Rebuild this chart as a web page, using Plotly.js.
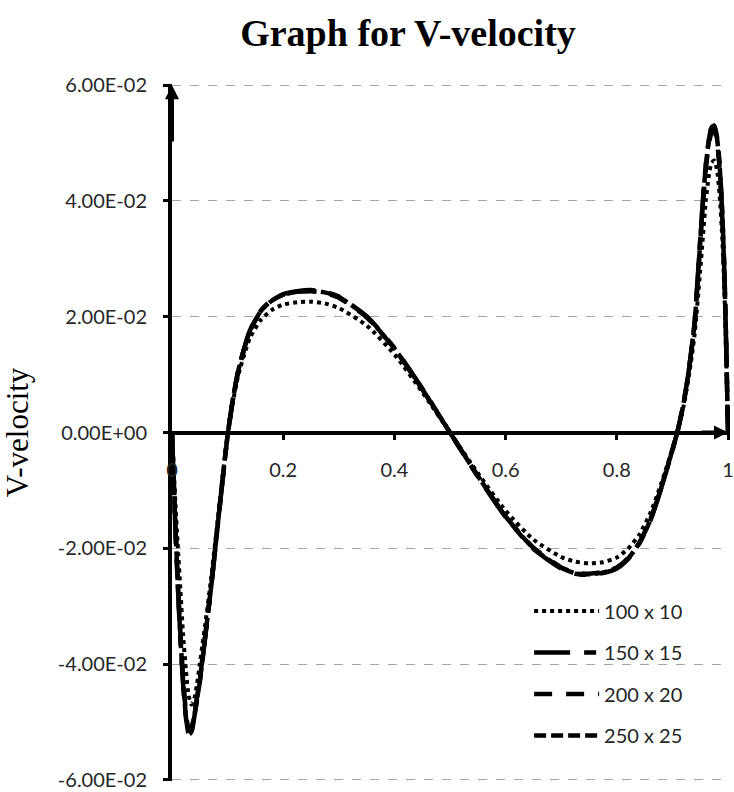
<!DOCTYPE html>
<html>
<head>
<meta charset="utf-8">
<script src="https://cdn.plot.ly/plotly-3.0.1.min.js"></script>
<style>html,body{margin:0;padding:0;background:#fff}#chart{width:734px;height:792px}</style>
</head>
<body>
<div id="chart"></div>
<script>
// Positions along the section (x, 0..1)
const xPos = [0, 0.003, 0.006, 0.01, 0.015, 0.02, 0.025, 0.03, 0.035, 0.04, 0.045, 0.05, 0.055, 0.06, 0.07, 0.08, 0.09, 0.1, 0.11, 0.12, 0.14, 0.16, 0.18, 0.2, 0.225, 0.25, 0.275, 0.3, 0.35, 0.4, 0.45, 0.5, 0.55, 0.6, 0.65, 0.7, 0.725, 0.75, 0.775, 0.8, 0.82, 0.84, 0.86, 0.88, 0.9, 0.91, 0.92, 0.93, 0.94, 0.95, 0.955, 0.96, 0.965, 0.97, 0.975, 0.98, 0.985, 0.99, 0.994, 0.997, 1];

// V-velocity, grid 100 x 10
const v100x10 = [0, -0.006, -0.012, -0.019, -0.027, -0.035, -0.041, -0.0455, -0.047, -0.046, -0.0435, -0.040, -0.0365, -0.033, -0.0255, -0.017, -0.0085, -0.0005, 0.0055, 0.0102, 0.0163, 0.0195, 0.0212, 0.0221, 0.0225, 0.0226, 0.0223, 0.0215, 0.0185, 0.0135, 0.007, 0, -0.007, -0.0135, -0.0185, -0.0215, -0.0223, -0.0226, -0.0224, -0.0216, -0.0201, -0.0177, -0.0140, -0.0088, -0.0028, 0.0005, 0.0045, 0.010, 0.017, 0.028, 0.034, 0.040, 0.044, 0.0465, 0.047, 0.0455, 0.041, 0.033, 0.023, 0.012, 0];

// V-velocity, grid 150 x 15
const v150x15 = [0, -0.0082, -0.0163, -0.0255, -0.0355, -0.0435, -0.0492, -0.0522, -0.0517, -0.0492, -0.0462, -0.0431, -0.0392, -0.0352, -0.0271, -0.0181, -0.0091, -0.0005, 0.006, 0.0111, 0.0176, 0.0211, 0.0229, 0.0239, 0.0244, 0.0246, 0.0243, 0.0235, 0.0201, 0.0146, 0.0076, 0, -0.0076, -0.0146, -0.0201, -0.0235, -0.0244, -0.0246, -0.0243, -0.0235, -0.0219, -0.0193, -0.0153, -0.0096, -0.0031, 0.0005, 0.005, 0.0111, 0.0192, 0.0333, 0.0403, 0.0462, 0.0502, 0.0526, 0.0530, 0.0512, 0.0462, 0.0372, 0.0262, 0.0141, 0];

// V-velocity, grid 200 x 20
const v200x20 = [0, -0.0079, -0.0158, -0.0248, -0.0347, -0.0426, -0.0483, -0.0512, -0.0509, -0.0486, -0.0457, -0.0427, -0.0388, -0.0348, -0.0269, -0.0179, -0.009, -0.0005, 0.006, 0.011, 0.0175, 0.021, 0.0228, 0.0238, 0.0243, 0.0244, 0.0241, 0.0233, 0.0199, 0.0145, 0.0075, 0, -0.0075, -0.0145, -0.0199, -0.0233, -0.0242, -0.0244, -0.0241, -0.0233, -0.0217, -0.0191, -0.0151, -0.0095, -0.003, 0.0005, 0.005, 0.011, 0.019, 0.0328, 0.0397, 0.0455, 0.0494, 0.0517, 0.0522, 0.0504, 0.0455, 0.0366, 0.0258, 0.0139, 0];

// V-velocity, grid 250 x 25
const v250x25 = [0, -0.008, -0.016, -0.025, -0.035, -0.043, -0.049, -0.052, -0.0515, -0.049, -0.046, -0.043, -0.039, -0.035, -0.027, -0.018, -0.009, -0.0005, 0.006, 0.011, 0.0175, 0.0210, 0.0228, 0.0238, 0.0243, 0.0245, 0.0242, 0.0234, 0.0200, 0.0145, 0.0075, 0, -0.0075, -0.0145, -0.0200, -0.0234, -0.0243, -0.0245, -0.0242, -0.0234, -0.0218, -0.0192, -0.0152, -0.0095, -0.0030, 0.0005, 0.005, 0.011, 0.019, 0.033, 0.040, 0.046, 0.050, 0.0525, 0.053, 0.051, 0.046, 0.037, 0.026, 0.014, 0];

const seriesNames = ['100 x 10', '150 x 15', '200 x 20', '250 x 25'];
const seriesValues = [v100x10, v150x15, v200x20, v250x25];

const yTickVals = [-0.06, -0.04, -0.02, 0, 0.02, 0.04, 0.06];
const yTickText = ['-6.00E-02', '-4.00E-02', '-2.00E-02', '0.00E+00', '2.00E-02', '4.00E-02', '6.00E-02'];
const xTickVals = [0, 0.2, 0.4, 0.6, 0.8, 1];
const xTickText = ['0', '0.2', '0.4', '0.6', '0.8', '1'];

const dashes = ['dot', '36px,14px,12px,14px', '18px,14px', '12px,5px'];
const widths = [4, 4.5, 4.5, 4.5];

const traces = seriesNames.map((name, i) => ({
  type: 'scatter',
  mode: 'lines',
  name: name,
  legendgroup: 'g' + i,
  x: xPos,
  y: seriesValues[i],
  line: {color: '#000000', width: widths[i], dash: dashes[i], shape: 'spline', smoothing: 0.6}
}));

const tickFont = {family: 'Lato, sans-serif', size: 20, color: '#262626'};

const layout = {
  width: 734,
  height: 792,
  margin: {l: 172, r: 4, t: 84, b: 11},
  paper_bgcolor: '#ffffff',
  plot_bgcolor: '#ffffff',
  title: {
    text: 'Graph for V-velocity',
    font: {family: '"Liberation Serif", "Times New Roman", serif', size: 38, color: '#000000', weight: 'bold'},
    x: 408 / 734, xanchor: 'center', xref: 'container',
    y: 1 - 33 / 792, yanchor: 'middle', yref: 'container'
  },
  showlegend: true,
  legend: {
    x: 0.64, y: 0.272, xanchor: 'left', yanchor: 'top',
    bgcolor: 'rgba(0,0,0,0)',
    font: tickFont,
    itemwidth: 65,
    tracegroupgap: 12.5
  },
  xaxis: {
    range: [0, 1.0036],
    anchor: 'free',
    position: 0.5,
    showgrid: false,
    zeroline: false,
    showline: true,
    linecolor: '#000000',
    linewidth: 4,
    ticks: 'outside',
    ticklen: 5,
    tickwidth: 3,
    tickcolor: '#000000',
    tickvals: xTickVals,
    ticktext: xTickText,
    tickfont: tickFont,
    ticklabelstandoff: 13,
    ticklabeloverflow: 'allow'
  },
  yaxis: {
    range: [-0.0602, 0.0602],
    showgrid: true,
    gridcolor: '#a6a6a6',
    gridwidth: 1,
    griddash: 'dash',
    zeroline: false,
    showline: true,
    linecolor: '#000000',
    linewidth: 4,
    ticks: 'outside',
    ticklen: 5,
    tickwidth: 3,
    tickcolor: '#000000',
    tickvals: yTickVals,
    ticktext: yTickText,
    tickfont: tickFont,
    ticklabelstandoff: 12,
    ticklabeloverflow: 'allow',
    title: {
      text: 'V-velocity',
      font: {family: '"Liberation Serif", "Times New Roman", serif', size: 31, color: '#000000'},
      standoff: 24
    }
  },
  annotations: [
    {x: 0, y: 0.06, ax: 0, ay: 0.05, xref: 'x', yref: 'y', axref: 'x', ayref: 'y', text: '', showarrow: true, arrowhead: 2, arrowsize: 0.7, arrowwidth: 4, arrowcolor: '#000000'},
    {x: 1, y: 0, ax: 0.95, ay: 0, xref: 'x', yref: 'y', axref: 'x', ayref: 'y', text: '', showarrow: true, arrowhead: 2, arrowsize: 0.7, arrowwidth: 4, arrowcolor: '#000000'}
  ]
};

Plotly.newPlot('chart', traces, layout, {displayModeBar: false, staticPlot: true});
</script>
</body>
</html>
